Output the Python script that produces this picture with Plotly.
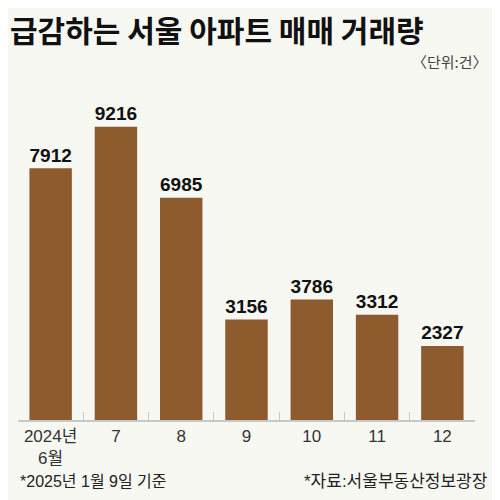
import plotly.graph_objects as go

# data
months = ["2024년<br>6월", "7", "8", "9", "10", "11", "12"]
deals = [7912, 9216, 6985, 3156, 3786, 3312, 2327]

BAR_COLOR = "#8E5B2F"
BG = "#F8F8F3"
KR_FONT = "Noto Sans CJK KR"
MIX_FONT = "Liberation Sans, Noto Sans CJK KR"

fig = go.Figure(go.Bar(
    x=months,
    y=deals,
    marker_color=BAR_COLOR,
    marker_line_width=0,
    text=[str(v) for v in deals],
    textposition="outside",
    cliponaxis=False,
    textfont=dict(family="Liberation Sans", size=25, color="#111", weight="bold"),
))

# page body adds an 8px margin, so the figure is a bit smaller than 500
fig.update_layout(
    width=492,
    height=492,
    margin=dict(l=10, r=25, t=92, b=80),
    paper_bgcolor=BG,
    plot_bgcolor=BG,
    bargap=0.35,
    showlegend=False,
    xaxis=dict(
        showline=True,
        linecolor="#C8C8C8",
        linewidth=1.5,
        ticks="inside",
        tickson="boundaries",
        ticklen=8,
        tickcolor="#C8C8C8",
        tickangle=0,
        ticklabelstandoff=0,
        tickfont=dict(family=MIX_FONT, size=17, color="#333"),
        showgrid=False,
    ),
    yaxis=dict(range=[0, 10060], visible=False, showgrid=False),
)

# title, unit and footnotes
fig.add_annotation(text="<b>급감하는 서울 아파트 매매 거래량</b>", xref="paper", yref="paper",
                   x=-0.022, y=1.222, xanchor="left", yanchor="middle", showarrow=False,
                   font=dict(family=KR_FONT, size=30, color="#111"))
fig.add_annotation(text="〈단위:건〉", xref="paper", yref="paper",
                   x=1.033, y=1.119, xanchor="right", yanchor="middle", showarrow=False,
                   font=dict(family=KR_FONT, size=15, color="#444"))
fig.add_annotation(text="*2025년 1월 9일 기준", xref="paper", yref="paper",
                   x=0.0, y=-0.192, xanchor="left", yanchor="middle", showarrow=False,
                   font=dict(family=MIX_FONT, size=16, color="#222"))
fig.add_annotation(text="*자료:서울부동산정보광장", xref="paper", yref="paper",
                   x=1.033, y=-0.192, xanchor="right", yanchor="middle", showarrow=False,
                   font=dict(family=MIX_FONT, size=17, color="#222"))

fig.write_html("out.html")
